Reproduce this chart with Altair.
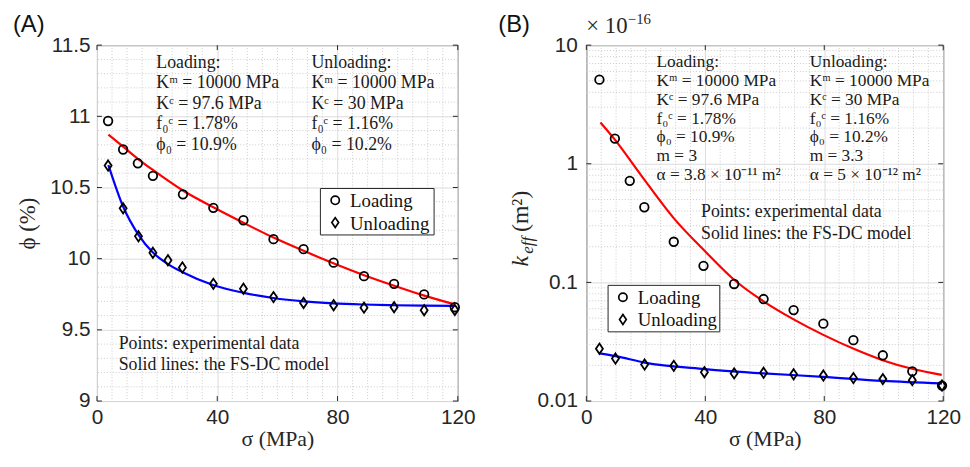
import altair as alt
import pandas as pd

# ---------------- Panel A data (porosity, %) ----------------
a_load_x = [3.7, 8.7, 13.6, 18.6, 28.6, 38.7, 48.7, 58.7, 68.7, 78.7, 88.8, 98.8, 108.8, 119.0]
a_load_y = [10.967, 10.767, 10.670, 10.582, 10.452, 10.357, 10.270, 10.137, 10.067, 9.972, 9.877, 9.823, 9.749, 9.659]
a_unl_x = [3.7, 8.7, 13.8, 18.6, 23.6, 28.4, 38.7, 48.7, 58.7, 68.7, 78.7, 88.8, 98.8, 108.8, 119.0]
a_unl_y = [10.654, 10.354, 10.157, 10.041, 9.989, 9.938, 9.823, 9.789, 9.730, 9.689, 9.673, 9.656, 9.659, 9.638, 9.640]
a_fit_load_x = [3.8, 8.8, 13.7, 18.6, 28.7, 38.7, 48.7, 58.7, 68.7, 78.6, 88.6, 98.6, 108.6, 118.9]
a_fit_load_y = [10.871, 10.785, 10.700, 10.623, 10.477, 10.361, 10.252, 10.148, 10.055, 9.968, 9.886, 9.812, 9.742, 9.679]
a_fit_unl_x = [3.8, 8.8, 13.7, 18.6, 23.6, 28.5, 38.6, 48.8, 58.6, 68.8, 78.6, 88.6, 98.6, 108.6, 118.9]
a_fit_unl_y = [10.658, 10.361, 10.171, 10.043, 9.962, 9.905, 9.815, 9.760, 9.724, 9.700, 9.686, 9.678, 9.673, 9.670, 9.668]

# ---------------- Panel B data (permeability, x1e-16 m^2) ----------------
b_load_x = [4.4, 9.6, 14.6, 19.5, 29.4, 39.4, 49.7, 59.6, 69.7, 79.7, 89.8, 99.7, 109.6, 119.6]
b_load_y = [5.12, 1.63, 0.718, 0.430, 0.220, 0.138, 0.097, 0.0724, 0.0584, 0.0449, 0.0326, 0.0243, 0.0178, 0.0135]
b_unl_x = [4.4, 9.8, 19.6, 29.4, 39.7, 49.7, 59.6, 69.7, 79.7, 89.8, 99.7, 109.6, 119.6]
b_unl_y = [0.0276, 0.0228, 0.0203, 0.0198, 0.0175, 0.0171, 0.0173, 0.0168, 0.0164, 0.0156, 0.0153, 0.0150, 0.0135]
b_fit_load_x = [4.75, 9.4, 18.3, 29.3, 40.4, 49.5, 59.7, 69.7, 79.7, 90.1, 99.6, 109.5, 119.5]
b_fit_load_y = [2.23, 1.62, 0.807, 0.350, 0.178, 0.1064, 0.0689, 0.0488, 0.0361, 0.0274, 0.0221, 0.0187, 0.0166]
b_fit_unl_x = [4.4, 9.8, 19.6, 39.9, 59.6, 79.6, 99.7, 119.6]
b_fit_unl_y = [0.0252, 0.0239, 0.0211, 0.0186, 0.0171, 0.0160, 0.0148, 0.0141]

series = ["Loading", "Unloading"]
line_colors = ["#ff0000", "#0000ff"]

a_text_load = ["Loading:", "Kᵐ = 10000 MPa", "Kᶜ = 97.6 MPa", "f₀ᶜ = 1.78%", "ϕ₀ = 10.9%"]
a_text_unl = ["Unloading:", "Kᵐ = 10000 MPa", "Kᶜ = 30 MPa", "f₀ᶜ = 1.16%", "ϕ₀ = 10.2%"]
b_text_load = a_text_load + ["m = 3", "α = 3.8 × 10⁻¹¹ m²"]
b_text_unl = a_text_unl + ["m = 3.3", "α = 5 × 10⁻¹² m²"]
notes = ["Points: experimental data", "Solid lines: the FS-DC model"]

SANS = "Liberation Sans"
SERIF = "Liberation Serif"
INK = "#262626"
W_A, W_B, H = 365, 361, 360
DIAMOND = "M0,-1.2L0.82,0L0,1.2L-0.82,0Z"
SHAPES = ["circle", DIAMOND]
MAJOR_GRID = "#dcdcdc"
MINOR_GRID = "#cbcbcb"


def pts_df(lx, ly, ux, uy):
    return pd.DataFrame({
        "x": lx + ux,
        "y": ly + uy,
        "series": ["Loading"] * len(lx) + ["Unloading"] * len(ux),
    })


def fit_df(lx, ly, ux, uy):
    return pd.DataFrame({
        "x": lx + ux,
        "y": ly + uy,
        "curve": ["Loading"] * len(lx) + ["Unloading"] * len(ux),
    })


def one():
    return pd.DataFrame({"k": [0]})


def text_block(lines, x, y, size, lh, font=SERIF):
    return alt.Chart(one()).mark_text(
        text=lines, align="left", baseline="top", font=font, fontSize=size,
        lineHeight=lh, color="#1a1a1a",
    ).encode(x=alt.value(x), y=alt.value(y))


def legend_box(x0, y0, w, h):
    """Boxed legend (drawn in pixel space of the panel)."""
    parts = [
        alt.Chart(one()).mark_rect(fill="white", stroke=INK, strokeWidth=1).encode(
            x=alt.value(x0), x2=alt.value(x0 + w), y=alt.value(y0), y2=alt.value(y0 + h)),
    ]
    for i, name in enumerate(series):
        cy = y0 + 12 + 22.5 * i
        parts.append(alt.Chart(one()).mark_point(
            shape=SHAPES[i], filled=False, color="black", strokeWidth=1.7, size=70, opacity=1
        ).encode(x=alt.value(x0 + 15), y=alt.value(cy)))
        parts.append(alt.Chart(one()).mark_text(
            text=name, align="left", baseline="middle", font=SERIF, fontSize=19, color="#111"
        ).encode(x=alt.value(x0 + 30), y=alt.value(cy + 1)))
    return parts


def panel(pdf, fdf, xscale, yscale, xaxis, yaxis, w, h, yticks, xminor, yminor, texts):
    gx = alt.Chart(pd.DataFrame({"x": xminor})).mark_rule(
        color=MINOR_GRID, strokeWidth=1, strokeDash=[1, 2]).encode(x=alt.X("x:Q", scale=xscale, axis=xaxis))
    gy = alt.Chart(pd.DataFrame({"y": yminor})).mark_rule(
        color=MINOR_GRID, strokeWidth=1, strokeDash=[1, 2]).encode(y=alt.Y("y:Q", scale=yscale, axis=yaxis))
    lines = alt.Chart(fdf).mark_line(strokeWidth=2.2, interpolate="monotone").encode(
        x=alt.X("x:Q", scale=xscale),
        y=alt.Y("y:Q", scale=yscale),
        color=alt.Color("curve:N", scale=alt.Scale(domain=series, range=line_colors), legend=None),
    )
    pts = alt.Chart(pdf).mark_point(
        filled=False, color="black", strokeWidth=1.8, opacity=1, size=75
    ).encode(
        x=alt.X("x:Q", scale=xscale),
        y=alt.Y("y:Q", scale=yscale),
        shape=alt.Shape("series:N", scale=alt.Scale(domain=series, range=SHAPES), legend=None),
    )
    xt = pd.DataFrame({"x": [0, 40, 80, 120]})
    yt = pd.DataFrame({"y": yticks})
    tick_b = alt.Chart(xt).mark_rule(color=INK, strokeWidth=1).encode(
        x=alt.X("x:Q", scale=xscale), y=alt.value(h), y2=alt.value(h - 5))
    tick_t = alt.Chart(xt).mark_rule(color=INK, strokeWidth=1).encode(
        x=alt.X("x:Q", scale=xscale), y=alt.value(0), y2=alt.value(5))
    tick_l = alt.Chart(yt).mark_rule(color=INK, strokeWidth=1).encode(
        y=alt.Y("y:Q", scale=yscale), x=alt.value(0), x2=alt.value(5))
    tick_r = alt.Chart(yt).mark_rule(color=INK, strokeWidth=1).encode(
        y=alt.Y("y:Q", scale=yscale), x=alt.value(w), x2=alt.value(w - 5))
    return alt.layer(gx, gy, lines, pts, tick_b, tick_t, tick_l, tick_r, *texts)


def x_axis():
    return alt.Axis(
        values=[0, 40, 80, 120], title="σ (MPa)", titleFont=SERIF, titleFontSize=22,
        titleFontWeight="normal", titleColor=INK, titlePadding=1,
        format="d", labelFont=SANS, labelFontSize=21, labelColor=INK, labelPadding=6,
        labelFlush=False, labelOverlap=False, ticks=False, domain=False,
        grid=True, gridColor=MAJOR_GRID, gridWidth=1,
    )


x_minor = [v for v in range(0, 121, 5) if v % 40 != 0]

# ---- Panel A ----
a_yaxis = alt.Axis(
    values=[9, 9.5, 10, 10.5, 11, 11.5], title="ϕ (%)", titleFont=SERIF, titleFontSize=23,
    titleFontWeight="normal", titleColor=INK, titlePadding=10,
    format="~g", labelFont=SANS, labelFontSize=21, labelColor=INK, labelPadding=7,
    labelOverlap=False, ticks=False, domain=False,
    grid=True, gridColor=MAJOR_GRID, gridWidth=1,
)
a_y_minor = [round(9 + 0.1 * i, 1) for i in range(26) if i % 5 != 0]
a_texts = [
    text_block(a_text_load, 60, 9, 18, 20.7),
    text_block(a_text_unl, 217, 9, 18, 20.7),
    text_block(notes, 22, 293, 18, 21.7),
    alt.Chart(one()).mark_text(text="(A)", align="left", baseline="top", font=SANS,
                               fontSize=24, color="#111").encode(x=alt.value(-85), y=alt.value(-32)),
] + legend_box(226, 145, 115, 47)
panel_a = panel(
    pts_df(a_load_x, a_load_y, a_unl_x, a_unl_y),
    fit_df(a_fit_load_x, a_fit_load_y, a_fit_unl_x, a_fit_unl_y),
    alt.Scale(domain=[0, 120], nice=False, zero=False),
    alt.Scale(domain=[9, 11.5], nice=False, zero=False),
    x_axis(), a_yaxis, W_A, H, [9, 9.5, 10, 10.5, 11, 11.5], x_minor, a_y_minor, a_texts,
).properties(width=W_A, height=H)

# ---- Panel B ----
b_yaxis = alt.Axis(
    values=[0.01, 0.1, 1, 10], title=None,
    format="~g", labelFont=SANS, labelFontSize=21, labelColor=INK, labelPadding=9,
    labelOverlap=False, ticks=False, domain=False,
    grid=True, gridColor=MAJOR_GRID, gridWidth=1,
)
b_y_minor = [round(m * 10.0 ** e, 4) for e in (-2, -1, 0) for m in range(2, 10)]
b_texts = [
    text_block(b_text_load, 71, 8, 17.5, 19.1),
    text_block(b_text_unl, 226, 8, 17.5, 19.1),
    text_block(notes, 116, 160, 18, 21.7),
    alt.Chart(one()).mark_text(text="(B)", align="left", baseline="top", font=SANS,
                               fontSize=24, color="#111").encode(x=alt.value(-89), y=alt.value(-32)),
    alt.Chart(one()).mark_text(text="× 10", align="left", baseline="alphabetic", font=SERIF,
                               fontSize=23, color=INK).encode(x=alt.value(0), y=alt.value(-12)),
    alt.Chart(one()).mark_text(text="−16", align="left", baseline="top", font=SERIF,
                               fontSize=15, color=INK).encode(x=alt.value(42), y=alt.value(-33)),
    # y-axis title k_eff (m^2), rotated
    alt.Chart(one()).mark_text(text="k", align="left", baseline="alphabetic", font=SERIF,
                               fontSize=24, fontStyle="italic", angle=270, color=INK
                               ).encode(x=alt.value(-59), y=alt.value(224)),
    alt.Chart(one()).mark_text(text="eff", align="left", baseline="alphabetic", font=SERIF,
                               fontSize=17, fontStyle="italic", angle=270, color=INK
                               ).encode(x=alt.value(-54), y=alt.value(211)),
    alt.Chart(one()).mark_text(text="(m²)", align="left", baseline="alphabetic", font=SERIF,
                               fontSize=24, angle=270, color=INK
                               ).encode(x=alt.value(-59), y=alt.value(189)),
] + legend_box(22, 243, 113, 47)
panel_b = panel(
    pts_df(b_load_x, b_load_y, b_unl_x, b_unl_y),
    fit_df(b_fit_load_x, b_fit_load_y, b_fit_unl_x, b_fit_unl_y),
    alt.Scale(domain=[0, 120], nice=False, zero=False),
    alt.Scale(type="log", domain=[0.01, 10], nice=False),
    x_axis(), b_yaxis, W_B, H, [0.01, 0.1, 1, 10], x_minor, b_y_minor, b_texts,
).properties(width=W_B, height=H)

chart = alt.hconcat(panel_a, panel_b, spacing=130, bounds="flush").resolve_scale(
    shape="independent", color="independent", x="independent", y="independent"
).properties(
    padding={"left": 4, "top": 1, "right": 0, "bottom": 0}, background="white"
).configure_view(stroke=INK, strokeWidth=1)

chart.save("out.html", embed_options={"renderer": "svg", "actions": False})
